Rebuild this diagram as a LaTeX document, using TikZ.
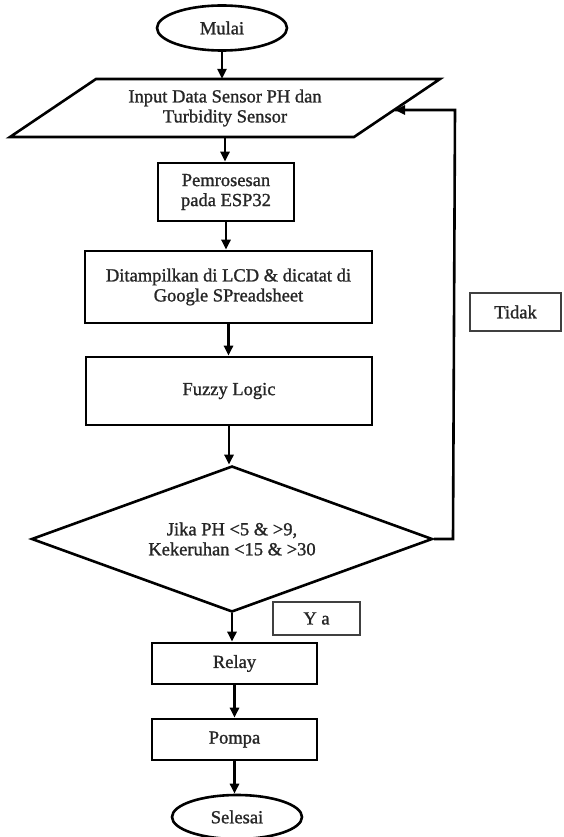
\documentclass[tikz,border=0pt]{standalone}
\usepackage{fontspec}
\setmainfont{Liberation Serif}[FakeBold=1.2]
\usetikzlibrary{arrows.meta,shapes.geometric}
\begin{document}
\begin{tikzpicture}[x=1pt,y=-1pt,
  every node/.style={font=\fontsize{18.5}{20}\selectfont, align=center, inner sep=0pt, text=black!85},
  box/.style={draw=black, rectangle, line width=2.6pt},
  term/.style={draw=black, ellipse, line width=2.6pt},
  lbl/.style={draw=black!75, rectangle, line width=1.2pt},
  arr/.style={line width=2.6pt, -{Triangle[length=10pt,width=9pt]}},
  conn/.style={line width=2.6pt}]
\useasboundingbox (0,0) rectangle (563,837);

\node[term, minimum width=130pt, minimum height=45pt] (mulai) at (222,28) {Mulai};

% input parallelogram
\coordinate (pTL) at (96,79);
\coordinate (pTR) at (440,79);
\coordinate (pBR) at (354,137);
\coordinate (pBL) at (10,137);
\draw[conn, line join=miter] (pTL) -- (pTR) -- (pBR) -- (pBL) -- cycle;
\node[minimum width=200pt, minimum height=58pt] (input) at (225,108) {Input Data Sensor PH dan\\Turbidity Sensor};
\coordinate (fbin) at (395,110);

\node[box, minimum width=136pt, minimum height=58pt] (proc) at (226,192) {Pemrosesan\\pada ESP32};
\node[box, minimum width=287pt, minimum height=72pt] (disp) at (228.5,287) {Ditampilkan di LCD \& dicatat di\\Google SPreadsheet};
\node[box, minimum width=286pt, minimum height=68pt] (fuzzy) at (229,391) {Fuzzy Logic};
\node[draw=black, diamond, aspect=2.75, line width=2.6pt, minimum width=401pt, minimum height=146pt] (dec) at (232,539) {Jika PH <5 \& >9,\\Kekeruhan <15 \& >30};
\node[box, minimum width=165pt, minimum height=41pt] (relay) at (234.5,663.5) {Relay};
\node[box, minimum width=165pt, minimum height=41pt] (pompa) at (234.5,739.5) {Pompa};
\node[term, minimum width=130pt, minimum height=44pt] (selesai) at (237,817) {Selesai};

\node[lbl, minimum width=87pt, minimum height=33pt] (ya) at (316.5,618.5) {Y a};
\node[lbl, minimum width=91pt, minimum height=38pt] (tidak) at (515.5,312) {Tidak};

\draw[arr] (mulai.south) -- (mulai.south |- input.north);
\draw[arr] (input.south) -- (input.south |- proc.north);
\draw[arr] (proc.south) -- (proc.south |- disp.north);
\draw[arr] (disp.south) -- (disp.south |- fuzzy.north);
\draw[arr] (fuzzy.south) -- (fuzzy.south |- dec.north);
\draw[arr] (dec.south) -- (dec.south |- relay.north);
\draw[arr] (relay.south) -- (relay.south |- pompa.north);
\draw[arr] (pompa.south) -- (pompa.south |- selesai.north);

\coordinate (fb1) at (453,539);
\coordinate (fb2) at (455,110);
\draw[conn, line join=miter] (dec.east) -- (fb1) -- (fb2) -- (fbin);
\draw[arr] (fb2) -- (fbin);
\end{tikzpicture}
\end{document}
